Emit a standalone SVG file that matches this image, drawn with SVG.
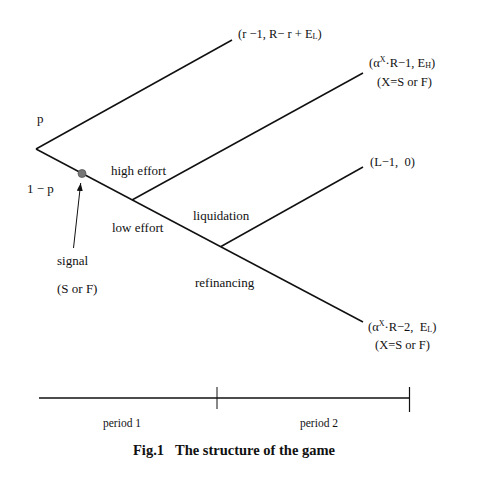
<svg xmlns="http://www.w3.org/2000/svg" width="478" height="485" viewBox="0 0 478 485">
<style>
text{font-family:"Liberation Serif","Times New Roman",serif;fill:#111;font-size:13px}
.sm{font-size:12.5px}
.sub{font-size:8px}
.ln{stroke:#111;stroke-width:1.5;fill:none}
.cap{font-size:14.5px;font-weight:bold}
</style>
<defs>
<marker id="ah" markerWidth="8" markerHeight="6" refX="8" refY="3" orient="auto" markerUnits="userSpaceOnUse">
<path d="M0,0 L8,3 L0,6 Z" fill="#111"/>
</marker>
</defs>
<rect width="478" height="485" fill="#fff"/>
<g id="connectors">
<line class="ln" x1="36" y1="149" x2="232" y2="40"/>
<line class="ln" x1="36" y1="149" x2="363" y2="322"/>
<line class="ln" x1="132" y1="200" x2="363" y2="73"/>
<line class="ln" x1="221" y1="246.5" x2="363" y2="167"/>
<line x1="73.5" y1="248" x2="80.7" y2="183" stroke="#111" stroke-width="1" marker-end="url(#ah)"/>
</g>
<g id="signal-node"><circle cx="82" cy="173.5" r="4" fill="#777" stroke="#555" stroke-width="0.8"/></g>
<g id="labels-root">
<text x="37" y="123">p</text>
<text x="27" y="193">1 − p</text>
</g>
<g id="labels-branches">
<text x="111" y="175">high effort</text>
<text x="112" y="232">low effort</text>
<text x="193" y="220">liquidation</text>
<text x="195" y="287">refinancing</text>
<text x="57" y="265">signal</text>
<text x="57" y="293">(S or F)</text>
</g>
<g id="payoff1"><text class="sm" x="238" y="38">(r −1, R− r + E<tspan class="sub" dy="1">L</tspan><tspan dy="-1">)</tspan></text></g>
<g id="payoff2">
<text class="sm" x="369" y="67">(α<tspan class="sub" dy="-5">X</tspan><tspan dy="5">·R−1, E</tspan><tspan class="sub" dy="1">H</tspan><tspan dy="-1">)</tspan></text>
<text class="sm" x="377" y="86">(X=S or F)</text>
</g>
<g id="payoff3"><text class="sm" x="370" y="166">(L−1,&#160; 0)</text></g>
<g id="payoff4">
<text class="sm" x="368" y="331">(α<tspan class="sub" dy="-5">X</tspan><tspan dy="5">·R−2,&#160; E</tspan><tspan class="sub" dy="1">L</tspan><tspan dy="-1">)</tspan></text>
<text class="sm" x="375" y="349">(X=S or F)</text>
</g>
<g id="timeline">
<line class="ln" x1="39" y1="398" x2="410" y2="398"/>
<line x1="217" y1="387" x2="217" y2="409" stroke="#111" stroke-width="1"/>
<line x1="409.5" y1="387" x2="409.5" y2="412" stroke="#111" stroke-width="1.2"/>
<text x="103" y="427" style="font-size:11.5px">period 1</text>
<text x="300" y="427" style="font-size:11.5px">period 2</text>
<text class="cap" x="133" y="455">Fig.1</text>
<text class="cap" x="175" y="455" textLength="160">The structure of the game</text>
</g>
</svg>
